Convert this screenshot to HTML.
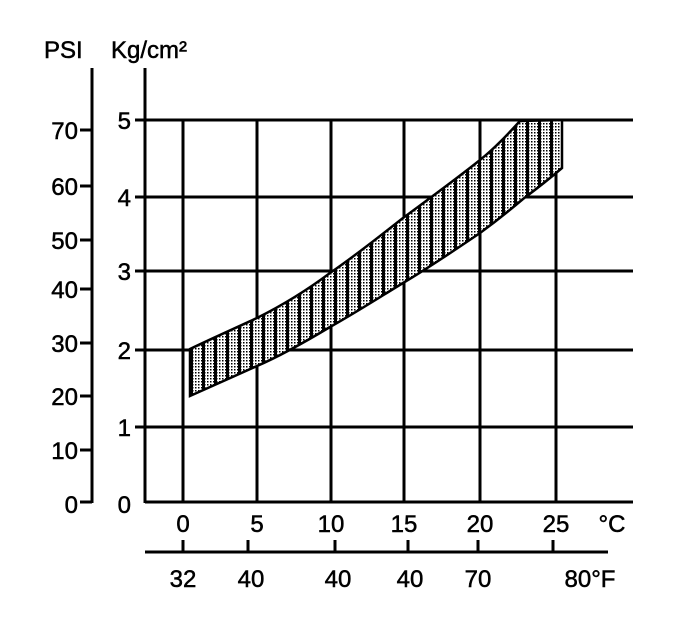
<!DOCTYPE html>
<html><head><style>body{margin:0;background:#fff}svg{display:block}</style></head><body>
<svg width="678" height="637" viewBox="0 0 678 637" xmlns="http://www.w3.org/2000/svg" font-family="Liberation Sans, sans-serif" font-size="24" fill="#000">
<defs>
<pattern id="dots" width="3" height="3" patternUnits="userSpaceOnUse"><rect width="3" height="3" fill="#fff"/><rect width="1.5" height="1.5" fill="#000"/></pattern>
<pattern id="hatch" x="190" width="12" height="10" patternUnits="userSpaceOnUse"><rect x="0" width="3" height="10" fill="#000"/></pattern>
<clipPath id="band"><path d="M190,349 C215,337 240,326 257,318 C285,304 310,288 330,273 C355,256 380,236 403,218 C430,198 455,180 480,160 C495,148 508,134 520,121 L562,120 L562,168 C548,180 535,190 523,199 C510,210 495,222 480,233 C455,250 430,267 403,283 C380,297 355,313 330,327 C305,342 280,356 257,366 C235,376 212,386 190,396 Z"/></clipPath>
</defs>
<g stroke="#000" stroke-width="3" fill="none">
<line x1="92" y1="68" x2="92" y2="503"/>
<line x1="80" y1="130" x2="92" y2="130"/><line x1="80" y1="186" x2="92" y2="186"/><line x1="80" y1="240" x2="92" y2="240"/><line x1="80" y1="289" x2="92" y2="289"/><line x1="80" y1="343" x2="92" y2="343"/><line x1="80" y1="396" x2="92" y2="396"/><line x1="80" y1="450" x2="92" y2="450"/><line x1="80" y1="502" x2="92" y2="502"/>
<line x1="145" y1="68" x2="145" y2="503"/>
<line x1="145" y1="502" x2="633" y2="502"/>
<line x1="135" y1="120" x2="633" y2="120"/><line x1="135" y1="197" x2="633" y2="197"/><line x1="135" y1="271" x2="633" y2="271"/><line x1="135" y1="350" x2="633" y2="350"/><line x1="135" y1="427" x2="633" y2="427"/>
<line x1="183" y1="120" x2="183" y2="502"/><line x1="257" y1="120" x2="257" y2="502"/><line x1="331" y1="120" x2="331" y2="502"/><line x1="404" y1="120" x2="404" y2="502"/><line x1="480" y1="120" x2="480" y2="502"/><line x1="556" y1="120" x2="556" y2="502"/>
<line x1="145" y1="552" x2="608" y2="552"/>
<line x1="183" y1="540" x2="183" y2="552"/><line x1="248" y1="540" x2="248" y2="552"/><line x1="335" y1="540" x2="335" y2="552"/><line x1="408" y1="540" x2="408" y2="552"/><line x1="478" y1="540" x2="478" y2="552"/><line x1="553" y1="540" x2="553" y2="552"/>
</g>
<g clip-path="url(#band)">
<rect x="185" y="110" width="380" height="300" fill="url(#dots)"/>
<rect x="185" y="110" width="380" height="300" fill="url(#hatch)"/>
</g>
<path d="M190,349 C215,337 240,326 257,318 C285,304 310,288 330,273 C355,256 380,236 403,218 C430,198 455,180 480,160 C495,148 508,134 520,121 L562,120 L562,168 C548,180 535,190 523,199 C510,210 495,222 480,233 C455,250 430,267 403,283 C380,297 355,313 330,327 C305,342 280,356 257,366 C235,376 212,386 190,396 Z" fill="none" stroke="#000" stroke-width="2.5"/>
<g stroke="#000" stroke-width="0.5">
<text x="44" y="58">PSI</text>
<text x="111" y="58">Kg/cm²</text>
<g text-anchor="end">
<text x="78" y="139">70</text><text x="78" y="195">60</text><text x="78" y="249">50</text><text x="78" y="298">40</text><text x="78" y="352">30</text><text x="78" y="405">20</text><text x="78" y="459">10</text><text x="78" y="513">0</text>
<text x="131" y="129">5</text><text x="131" y="206">4</text><text x="131" y="280">3</text><text x="131" y="359">2</text><text x="131" y="436">1</text><text x="131" y="513">0</text>
</g>
<g text-anchor="middle">
<text x="183" y="532">0</text><text x="257" y="532">5</text><text x="331" y="532">10</text><text x="404" y="532">15</text><text x="480" y="532">20</text><text x="556" y="532">25</text><text x="612" y="532">°C</text>
<text x="183" y="587">32</text><text x="251" y="587">40</text><text x="338" y="587">40</text><text x="410" y="587">40</text><text x="478" y="587">70</text><text x="590" y="587">80°F</text>
</g>
</g>
</svg>
</body></html>
